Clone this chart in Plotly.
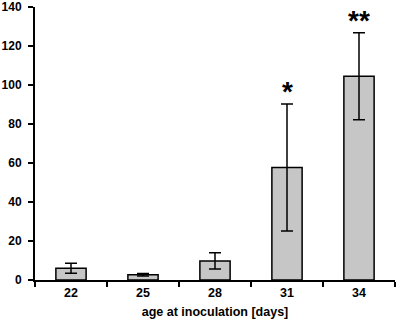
import plotly.graph_objects as go

ages = ["22", "25", "28", "31", "34"]
means = [6.0, 2.7, 9.8, 57.7, 104.5]
errors = [2.6, 0.6, 4.2, 32.6, 22.3]
stars = ["", "", "", "*", "**"]
y_ticks = [0, 20, 40, 60, 80, 100, 120, 140]

fig = go.Figure()
fig.add_trace(go.Bar(
    x=ages, y=means,
    marker=dict(color="#c6c6c6", line=dict(color="black", width=1.5)),
    error_y=dict(type="data", array=errors, visible=True, color="black", thickness=1.5, width=6),
))

for i, (m, e, s) in enumerate(zip(means, errors, stars)):
    if s:
        fig.add_annotation(x=i, y=m + e, text=s, showarrow=False, yanchor="bottom", yshift=-5,
                           font=dict(family="Liberation Sans, Arial", size=28, color="black", weight="bold"))

fig.update_layout(
    width=397, height=328,
    margin=dict(l=35, r=2, t=7, b=48),
    plot_bgcolor="white", paper_bgcolor="white",
    bargap=0.58,
    showlegend=False,
    font=dict(family="Liberation Sans, Arial", size=12, color="black", weight="bold"),
)
fig.update_xaxes(
    type="category", categoryorder="array", categoryarray=ages, range=[-0.5, 4.5],
    tickson="boundaries", ticks="outside", ticklen=5, tickwidth=1.5, tickcolor="black",
    showline=True, linecolor="black", linewidth=2, showgrid=False, tickangle=0,
    tickfont=dict(size=12.5), automargin=False,
    title=dict(text="age at inoculation [days]", font=dict(size=12.5, weight="bold"), standoff=8),
)
fig.update_yaxes(
    range=[0, 140], tickvals=y_ticks, ticks="outside", ticklen=5, tickwidth=1.5, tickcolor="black",
    showline=True, linecolor="black", linewidth=2, showgrid=False, zeroline=False,
    ticklabeloverflow="allow", tickfont=dict(size=12), ticklabelstandoff=4, automargin=False,
)

fig.write_html("out.html", config={"displayModeBar": False},
               post_script="document.body.style.margin='0';document.body.style.overflow='hidden';")
